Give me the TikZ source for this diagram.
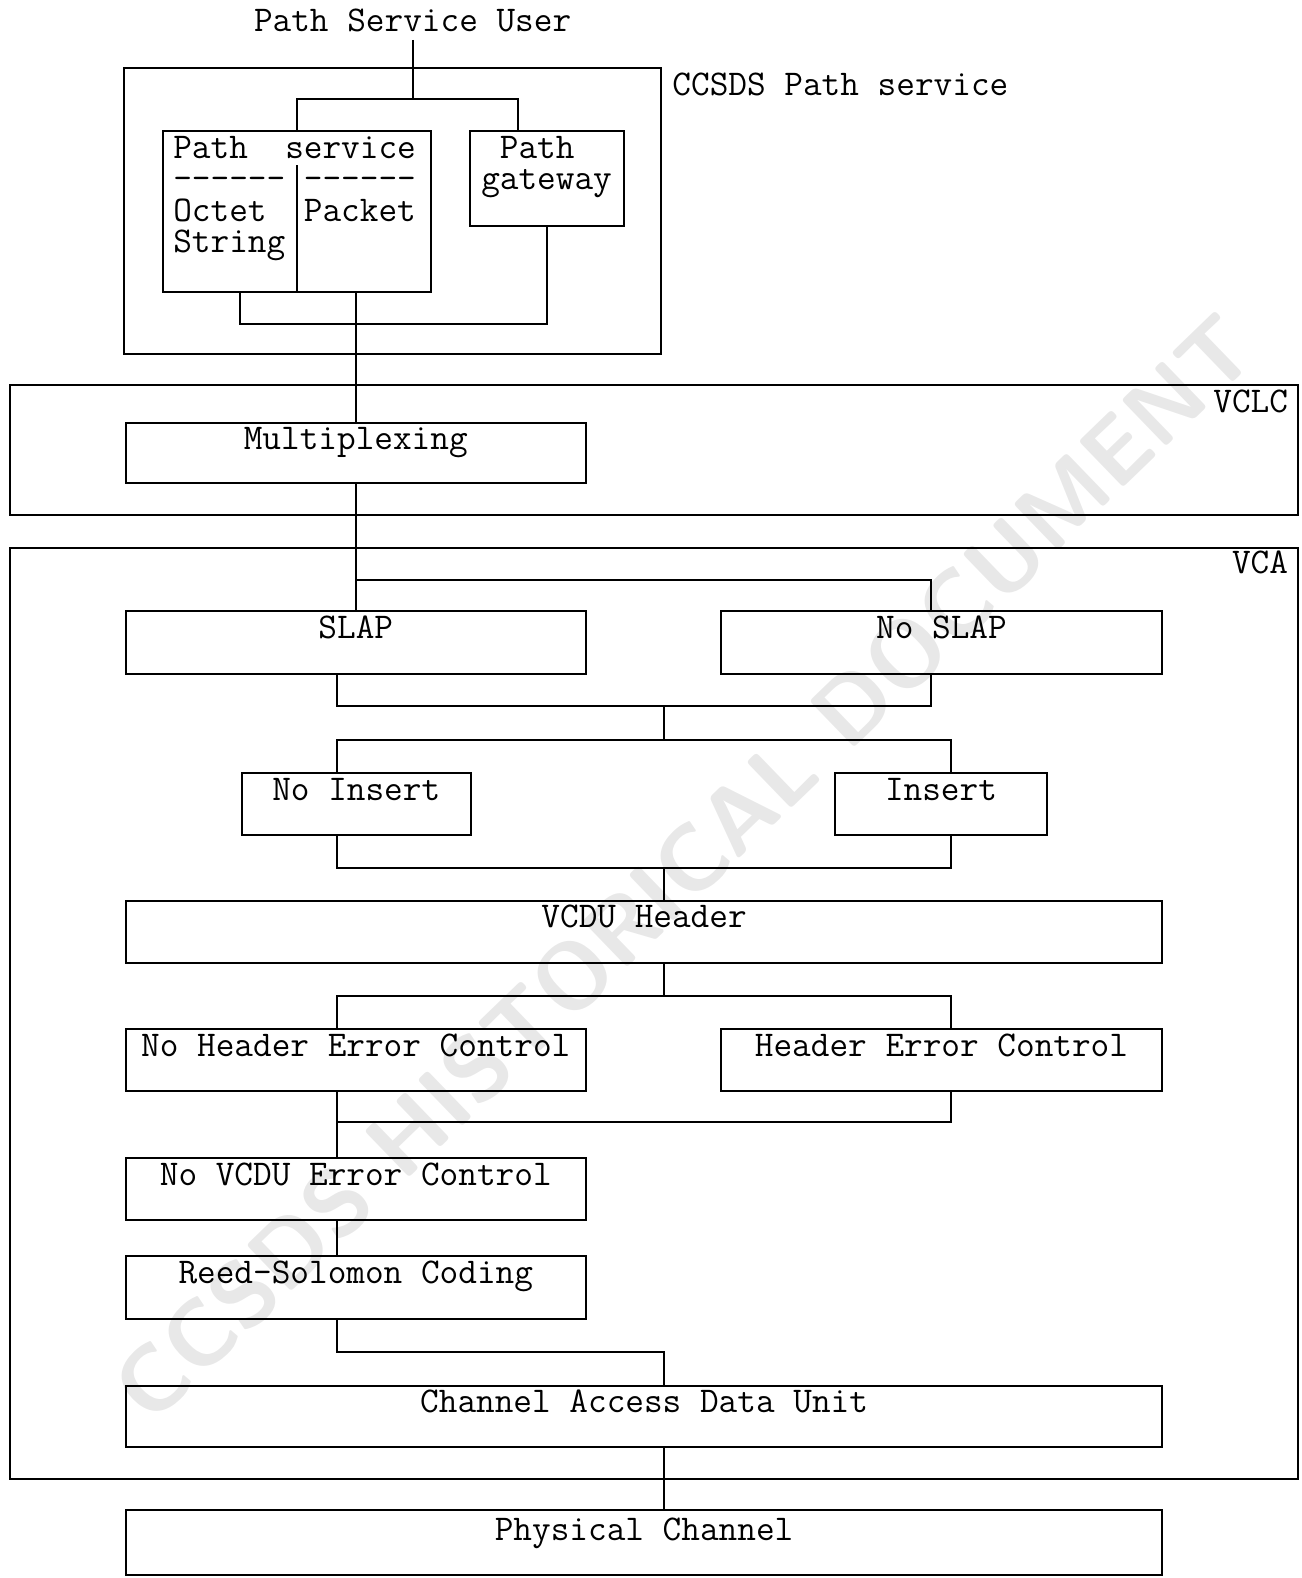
\documentclass[tikz,border=0pt]{standalone}
\usepackage{tikz}

\newcommand\boxfont{\fontsize{36}{31.3}\selectfont\ttfamily\lineskiplimit=-50pt}
\newcommand\hy{-\kern0pt}

\tikzset{
	wire/.style={line width=2pt},
	bandbox/.style={draw, line width=2pt, inner sep=0pt},
	box/.style={draw, line width=2pt, inner xsep=0pt, inner ysep=0pt,
		minimum height=62pt, text height=27pt, text depth=35pt, font=\boxfont},
	lbl/.style={font=\boxfont, inner sep=0pt},
}

\begin{document}
\begin{tikzpicture}[x=1pt, y=-1pt]
	\useasboundingbox (0,0) rectangle (1293,1568);
	\node[rotate=44, text=black!9, font=\fontsize{92}{92}\selectfont\sffamily\bfseries] (stamp) at (680,862) {CCSDS HISTORICAL DOCUMENT};
	%%%%%%%%%%%%%%%%%%%%%%%%%%%%%%%%
	\node[lbl, anchor=base] (user) at (410,31) {Path Service User};
	\node[bandbox, minimum width=534pt, minimum height=284pt] (psframe) at (390,210) {};
	\node[lbl, anchor=base west] (pslabel) at (668,95) {CCSDS Path service};
	\node[bandbox, minimum width=266pt, minimum height=160pt] (pathsvc) at (295,210) {};
	\node[lbl, anchor=north west, align=left] (svctext) at (172,135) {Path~~service\\\hy\hy\hy\hy\hy-~\hy\hy\hy\hy\hy-\\Octet~~Packet\\String};
	\node[bandbox, minimum width=153pt, minimum height=95pt] (gateway) at (543.5,177.5) {};
	\node[lbl, anchor=north west, align=left] (gwtext) at (478,135) {~Path\\gateway};
	\coordinate (usersplit) at (410,98);
	\draw[wire, shorten <=8pt] (user) -- (usersplit);
	\draw[wire] (pathsvc.north) |- (usersplit) -| ([xshift=-28.5pt]gateway.north);
	\draw[wire] ([yshift=-35pt]pathsvc.north) -- (pathsvc.south);
	\coordinate (psmerge) at (353.5,322);
	\draw[wire] ([xshift=-57pt]pathsvc.south) |- (psmerge);
	\draw[wire] (gateway.south) |- (psmerge);
	%%%%%%%%%%%%%%%%%%%%%%%%%%%%%%%%
	\node[bandbox, minimum width=1280pt, minimum height=129pt] (vclc) at (650,447.5) {};
	\node[lbl, anchor=base east] (vclclabel) at (1280,410) {VCLC};
	\node[box, minimum width=457pt, minimum height=60pt, text depth=33pt] (mux) at (353.5,450) {Multiplexing};
	\draw[wire] (pathsvc.south -| mux.north) -- (mux.north);
	%%%%%%%%%%%%%%%%%%%%%%%%%%%%%%%%
	\node[bandbox, minimum width=1280pt, minimum height=925pt] (vca) at (650,1007.5) {};
	\node[lbl, anchor=base east] (vcalabel) at (1280,570) {VCA};
	\node[box, minimum width=457pt] (slap) at (353.5,638.5) {SLAP};
	\node[box, minimum width=439pt] (noslap) at (935.5,638.5) {No SLAP};
	\coordinate (slapsplit) at (353.5,576);
	\draw[wire] (mux.south) -- (slap.north);
	\draw[wire] (slapsplit) -| ([xshift=-10.5pt]noslap.north);
	\coordinate (slapmerge) at (660,702);
	\draw[wire] ([xshift=-18.5pt]slap.south) |- (slapmerge);
	\draw[wire] ([xshift=-10.5pt]noslap.south) |- (slapmerge);
	%%%%%%%%%%%%%%%%%%%%%%%%%%%%%%%%
	\node[box, minimum width=228pt] (noinsert) at (354,799) {No Insert};
	\node[box, minimum width=210pt] (insert) at (935,799) {Insert};
	\coordinate (insplit) at (660,735);
	\draw[wire] (slapmerge) -- (insplit);
	\draw[wire] ([xshift=-19pt]noinsert.north) |- (insplit);
	\draw[wire] ([xshift=10pt]insert.north) |- (insplit);
	\coordinate (inmerge) at (660,862);
	\draw[wire] ([xshift=-19pt]noinsert.south) |- (inmerge);
	\draw[wire] ([xshift=10pt]insert.south) |- (inmerge);
	%%%%%%%%%%%%%%%%%%%%%%%%%%%%%%%%
	\node[box, minimum width=1030pt] (vcdu) at (640,926) {VCDU Header};
	\draw[wire] (inmerge) -- (inmerge |- vcdu.north);
	\node[box, minimum width=457pt] (nohec) at (353.5,1053.5) {No Header Error Control};
	\node[box, minimum width=439pt] (hec) at (935.5,1053.5) {Header Error Control};
	\coordinate (hecsplit) at (660,990);
	\draw[wire] (vcdu.south -| hecsplit) -- (hecsplit);
	\draw[wire] ([xshift=-18.5pt]nohec.north) |- (hecsplit);
	\draw[wire] ([xshift=9.5pt]hec.north) |- (hecsplit);
	%%%%%%%%%%%%%%%%%%%%%%%%%%%%%%%%
	\node[box, minimum width=457pt] (novcdu) at (353.5,1181.5) {No VCDU Error Control};
	\node[box, minimum width=457pt] (rs) at (353.5,1279.5) {Reed-Solomon Coding};
	\coordinate (hecmerge) at (335,1115);
	\draw[wire] ([xshift=-18.5pt]nohec.south) -- ([xshift=-18.5pt]novcdu.north);
	\draw[wire] ([xshift=9.5pt]hec.south) |- (hecmerge);
	\draw[wire] ([xshift=-18.5pt]novcdu.south) -- ([xshift=-18.5pt]rs.north);
	%%%%%%%%%%%%%%%%%%%%%%%%%%%%%%%%
	\node[box, minimum width=1030pt, minimum height=61pt, text depth=34pt] (cadu) at (640,1407.5) {Channel Access Data Unit};
	\node[box, minimum width=1030pt, minimum height=65pt, text height=31pt, text depth=34pt] (phys) at (640,1532.5) {Physical Channel};
	\coordinate (rsbend) at (660,1343);
	\draw[wire] ([xshift=-18.5pt]rs.south) |- (rsbend) -- (rsbend |- cadu.north);
	\draw[wire] (cadu.south -| rsbend) -- (phys.north -| rsbend);
\end{tikzpicture}
\end{document}
